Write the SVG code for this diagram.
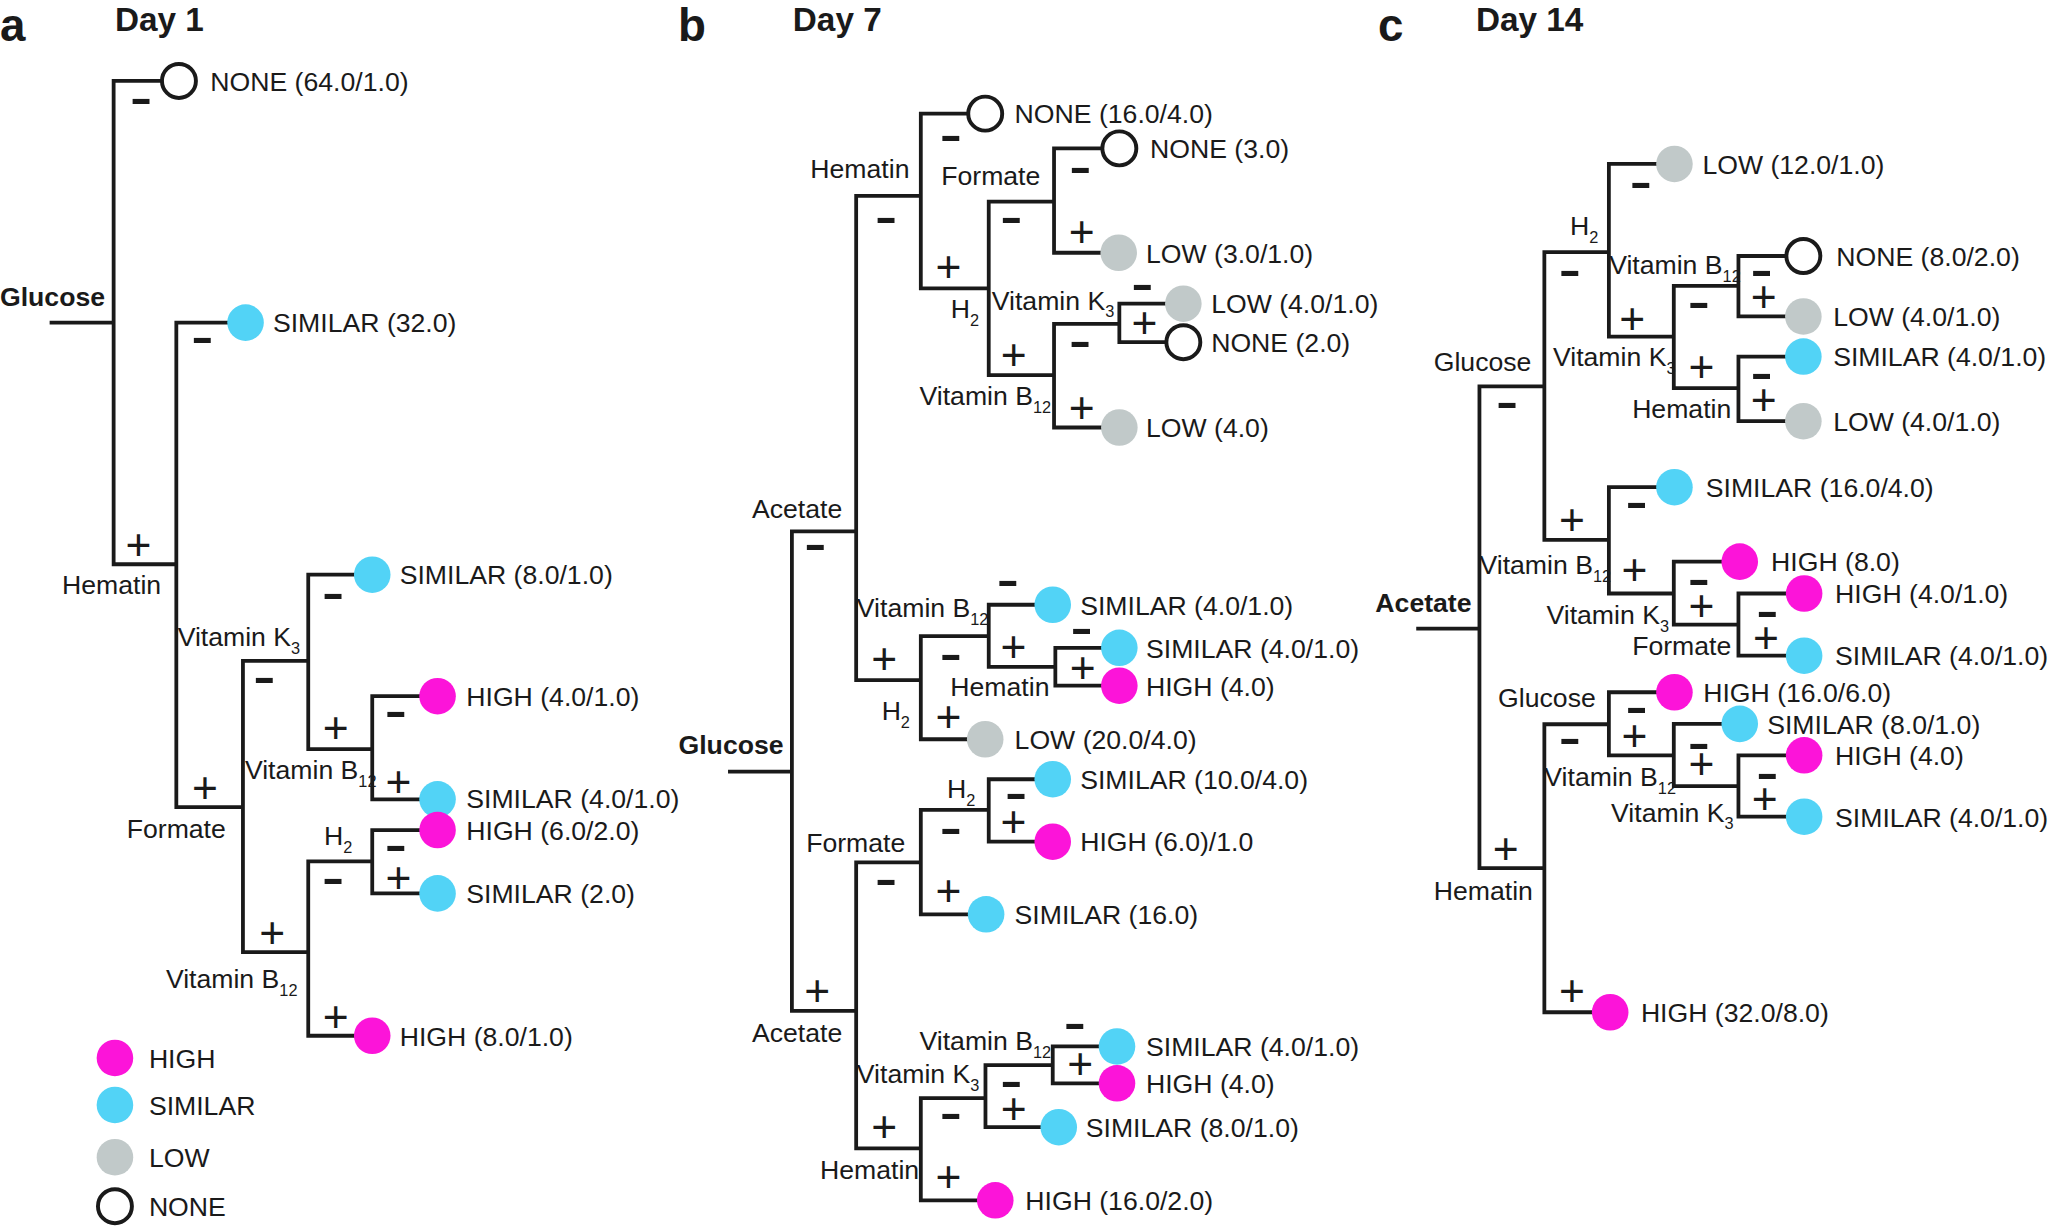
<svg xmlns="http://www.w3.org/2000/svg" width="2048" height="1227" viewBox="0 0 2048 1227">
<defs>
<style>
.e{fill:none;stroke:#1a1a1a;stroke-width:2.9;stroke-linejoin:miter;stroke-linecap:butt}
.t{font-family:"Liberation Sans",Arial,sans-serif;font-size:20.4px;fill:#1a1a1a}
.b{font-family:"Liberation Sans",Arial,sans-serif;font-weight:bold;fill:#1a1a1a}
.pl{font-family:"Liberation Sans",Arial,sans-serif;font-size:34px;fill:#1a1a1a;text-anchor:middle}
.mi{font-family:"Liberation Sans",Arial,sans-serif;font-weight:bold;font-size:33px;fill:#1a1a1a;text-anchor:middle}
.hi{fill:#fc14d9}
.si{fill:#52d3f6}
.lo{fill:#c1c9c9}
.no{fill:#ffffff;stroke:#1a1a1a;stroke-width:3}
.sub{font-size:12.5px}
</style>
</defs>
<rect width="2048" height="1227" fill="#ffffff"/>
<g transform="scale(1.30612)">

<g id="titles">
<text class="b" x="0" y="31" font-size="35">a</text>
<text class="b" x="88" y="24" font-size="25.5">Day 1</text>
<text class="b" x="519" y="31" font-size="35">b</text>
<text class="b" x="607" y="24" font-size="25.5">Day 7</text>
<text class="b" x="1055" y="31" font-size="35">c</text>
<text class="b" x="1130" y="24" font-size="25.5">Day 14</text>
</g>

<g id="connectors">
<!-- panel a -->
<path class="e" d="M38,247 H87"/>
<path class="e" d="M137,62 H87 V432 H135"/>
<path class="e" d="M188,247 H135 V618 H186"/>
<path class="e" d="M236,506 H186 V729 H236"/>
<path class="e" d="M285,440 H236 V573.5 H285"/>
<path class="e" d="M335,533 H285 V612 H335"/>
<path class="e" d="M285,659.5 H236 V793 H285"/>
<path class="e" d="M335,635.5 H285 V684 H335"/>
<!-- panel b -->
<path class="e" d="M557.4,590.7 H606.3"/>
<path class="e" d="M655.5,406.8 H606.3 V774 H655.5"/>
<path class="e" d="M705,150 H655.5 V520.7 H705"/>
<path class="e" d="M754.3,87 H705 V220.8 H757"/>
<path class="e" d="M807,154.4 H757 V287.2 H807"/>
<path class="e" d="M857,113.6 H807 V193.5 H857"/>
<path class="e" d="M857,247.9 H807 V327.3 H857"/>
<path class="e" d="M906,232.5 H857 V262 H906"/>
<path class="e" d="M757,487 H705 V566 H754.3"/>
<path class="e" d="M806,463 H757 V510.5 H808"/>
<path class="e" d="M857,496 H808 V525 H857"/>
<path class="e" d="M705,660.2 H655.5 V879.2 H705"/>
<path class="e" d="M757,620 H705 V700 H755"/>
<path class="e" d="M806,596.6 H757 V644.4 H806"/>
<path class="e" d="M754.5,840.7 H705 V919 H762"/>
<path class="e" d="M806,815.5 H754.5 V863 H810.6"/>
<path class="e" d="M855.2,801.2 H806 V829.4 H855.2"/>
<!-- panel c -->
<path class="e" d="M1084.3,481.3 H1132.7"/>
<path class="e" d="M1182.4,295.9 H1132.7 V664.6 H1182.4"/>
<path class="e" d="M1231.8,193.1 H1182.4 V413.3 H1231.8"/>
<path class="e" d="M1282,125.5 H1231.8 V257.7 H1281.5"/>
<path class="e" d="M1331,218.8 H1281.5 V297.2 H1331"/>
<path class="e" d="M1380.7,196 H1331 V242.3 H1380.7"/>
<path class="e" d="M1380.7,273 H1331 V322.5 H1380.7"/>
<path class="e" d="M1282,373 H1231.8 V454.4 H1281.5"/>
<path class="e" d="M1332,430 H1281.5 V478.2 H1331"/>
<path class="e" d="M1381.3,454.4 H1331 V502 H1381.3"/>
<path class="e" d="M1231.8,554.5 H1182.4 V775 H1232.8"/>
<path class="e" d="M1282,530 H1231.8 V578.3 H1281.5"/>
<path class="e" d="M1332,554.2 H1281.5 V601.9 H1331"/>
<path class="e" d="M1381.3,578.3 H1331 V625.3 H1381.3"/>
</g>

<g id="signs">
<!-- a -->
<text class="mi" x="108" y="86.6" textLength="17" lengthAdjust="spacingAndGlyphs">-</text>
<text class="pl" x="106" y="429">+</text>
<text class="mi" x="155" y="269.6" textLength="17" lengthAdjust="spacingAndGlyphs">-</text>
<text class="pl" x="157" y="615">+</text>
<text class="mi" x="202.5" y="529.6" textLength="17" lengthAdjust="spacingAndGlyphs">-</text>
<text class="pl" x="208.5" y="726">+</text>
<text class="mi" x="255" y="465.6" textLength="17" lengthAdjust="spacingAndGlyphs">-</text>
<text class="pl" x="257" y="569">+</text>
<text class="mi" x="303" y="556" textLength="17" lengthAdjust="spacingAndGlyphs">-</text>
<text class="pl" x="305" y="610">+</text>
<text class="mi" x="255" y="683.6" textLength="17" lengthAdjust="spacingAndGlyphs">-</text>
<text class="pl" x="257" y="790">+</text>
<text class="mi" x="303" y="658.6" textLength="17" lengthAdjust="spacingAndGlyphs">-</text>
<text class="pl" x="305" y="684">+</text>
<!-- b -->
<text class="mi" x="624.2" y="428" textLength="17" lengthAdjust="spacingAndGlyphs">-</text>
<text class="pl" x="625.6" y="770.4">+</text>
<text class="mi" x="678.4" y="177.3" textLength="17" lengthAdjust="spacingAndGlyphs">-</text>
<text class="pl" x="677" y="516">+</text>
<text class="mi" x="728" y="114.6" textLength="17" lengthAdjust="spacingAndGlyphs">-</text>
<text class="pl" x="726.2" y="215.7">+</text>
<text class="mi" x="774.4" y="177.8" textLength="17" lengthAdjust="spacingAndGlyphs">-</text>
<text class="pl" x="776.1" y="283.4">+</text>
<text class="mi" x="827.1" y="139.6" textLength="17" lengthAdjust="spacingAndGlyphs">-</text>
<text class="pl" x="828.2" y="189.4">+</text>
<text class="mi" x="827" y="272.8" textLength="17" lengthAdjust="spacingAndGlyphs">-</text>
<text class="pl" x="828.2" y="324.2">+</text>
<text class="mi" x="874.6" y="228.9" textLength="17" lengthAdjust="spacingAndGlyphs">-</text>
<text class="pl" x="876.3" y="259.1">+</text>
<text class="mi" x="728" y="512.1" textLength="17" lengthAdjust="spacingAndGlyphs">-</text>
<text class="pl" x="726.2" y="560.5">+</text>
<text class="mi" x="771.6" y="455.9" textLength="17" lengthAdjust="spacingAndGlyphs">-</text>
<text class="pl" x="776" y="506.6">+</text>
<text class="mi" x="828.2" y="492.3" textLength="17" lengthAdjust="spacingAndGlyphs">-</text>
<text class="pl" x="828.9" y="523">+</text>
<text class="mi" x="678.4" y="684.4" textLength="17" lengthAdjust="spacingAndGlyphs">-</text>
<text class="pl" x="677" y="874">+</text>
<text class="mi" x="728" y="645.6" textLength="17" lengthAdjust="spacingAndGlyphs">-</text>
<text class="pl" x="726.2" y="693.4">+</text>
<text class="mi" x="778" y="618.3" textLength="17" lengthAdjust="spacingAndGlyphs">-</text>
<text class="pl" x="776" y="641">+</text>
<text class="mi" x="728" y="863.6" textLength="17" lengthAdjust="spacingAndGlyphs">-</text>
<text class="pl" x="726.2" y="912.3">+</text>
<text class="mi" x="774.4" y="839.2" textLength="17" lengthAdjust="spacingAndGlyphs">-</text>
<text class="pl" x="776.1" y="860.2">+</text>
<text class="mi" x="823" y="794.6" textLength="17" lengthAdjust="spacingAndGlyphs">-</text>
<text class="pl" x="827.1" y="826.3">+</text>
<!-- c -->
<text class="mi" x="1153.9" y="319.6" textLength="17" lengthAdjust="spacingAndGlyphs">-</text>
<text class="pl" x="1152.9" y="661.4">+</text>
<text class="mi" x="1201.9" y="218.1" textLength="17" lengthAdjust="spacingAndGlyphs">-</text>
<text class="pl" x="1203.6" y="409.9">+</text>
<text class="mi" x="1256.3" y="150.6" textLength="17" lengthAdjust="spacingAndGlyphs">-</text>
<text class="pl" x="1249.6" y="255.9">+</text>
<text class="mi" x="1300.7" y="242.9" textLength="17" lengthAdjust="spacingAndGlyphs">-</text>
<text class="pl" x="1302.7" y="292.3">+</text>
<text class="mi" x="1348.7" y="218.1" textLength="17" lengthAdjust="spacingAndGlyphs">-</text>
<text class="pl" x="1350.4" y="239">+</text>
<text class="mi" x="1348.7" y="297" textLength="17" lengthAdjust="spacingAndGlyphs">-</text>
<text class="pl" x="1350.4" y="317.5">+</text>
<text class="mi" x="1253" y="396.2" textLength="17" lengthAdjust="spacingAndGlyphs">-</text>
<text class="pl" x="1251.3" y="447.6">+</text>
<text class="mi" x="1300.7" y="454.6" textLength="17" lengthAdjust="spacingAndGlyphs">-</text>
<text class="pl" x="1302.7" y="475.3">+</text>
<text class="mi" x="1353.1" y="479.6" textLength="17" lengthAdjust="spacingAndGlyphs">-</text>
<text class="pl" x="1352.1" y="500.2">+</text>
<text class="mi" x="1201.9" y="576.7" textLength="17" lengthAdjust="spacingAndGlyphs">-</text>
<text class="pl" x="1203.6" y="770.5">+</text>
<text class="mi" x="1253" y="552.6" textLength="17" lengthAdjust="spacingAndGlyphs">-</text>
<text class="pl" x="1251.3" y="575">+</text>
<text class="mi" x="1300.7" y="580.5" textLength="17" lengthAdjust="spacingAndGlyphs">-</text>
<text class="pl" x="1302.7" y="596.6">+</text>
<text class="mi" x="1353.1" y="603.4" textLength="17" lengthAdjust="spacingAndGlyphs">-</text>
<text class="pl" x="1351.1" y="623.3">+</text>
</g>

<g id="a-glucose"><text class="b" x="0" y="234" font-size="20.4">Glucose</text></g>
<g id="a-hematin"><text class="t" x="47.5" y="455">Hematin</text></g>
<g id="a-formate"><text class="t" x="97" y="641.5">Formate</text></g>
<g id="a-vitk3"><text class="t" x="136" y="494.5">Vitamin K<tspan class="sub" dy="6">3</tspan></text></g>
<g id="a-vitb12-1"><text class="t" x="187.5" y="596.5">Vitamin B<tspan class="sub" dy="6">12</tspan></text></g>
<g id="a-vitb12-2"><text class="t" x="127" y="756.5">Vitamin B<tspan class="sub" dy="6">12</tspan></text></g>
<g id="a-h2"><text class="t" x="248" y="647">H<tspan class="sub" dy="6">2</tspan></text></g>

<g id="b-glucose"><text class="b" x="519.5" y="577.3" font-size="20.4">Glucose</text></g>
<g id="b-acetate-1"><text class="t" x="575.7" y="396.7">Acetate</text></g>
<g id="b-acetate-2"><text class="t" x="575.7" y="798">Acetate</text></g>
<g id="b-hematin-1"><text class="t" x="620.4" y="136.6">Hematin</text></g>
<g id="b-h2-1"><text class="t" x="728" y="243.3">H<tspan class="sub" dy="6">2</tspan></text></g>
<g id="b-formate-1"><text class="t" x="720.6" y="141.7">Formate</text></g>
<g id="b-vitb12-1"><text class="t" x="704" y="310.2">Vitamin B<tspan class="sub" dy="6">12</tspan></text></g>
<g id="b-vitk3-1"><text class="t" x="759.3" y="237">Vitamin K<tspan class="sub" dy="6">3</tspan></text></g>
<g id="b-h2-2"><text class="t" x="675" y="551.5">H<tspan class="sub" dy="6">2</tspan></text></g>
<g id="b-vitb12-2"><text class="t" x="656" y="472.6">Vitamin B<tspan class="sub" dy="6">12</tspan></text></g>
<g id="b-hematin-2"><text class="t" x="727.6" y="532.5">Hematin</text></g>
<g id="b-h2-3"><text class="t" x="725" y="611">H<tspan class="sub" dy="6">2</tspan></text></g>
<g id="b-formate-2"><text class="t" x="617.2" y="652">Formate</text></g>
<g id="b-hematin-3"><text class="t" x="627.8" y="902.4">Hematin</text></g>
<g id="b-vitk3-2"><text class="t" x="656" y="829.4">Vitamin K<tspan class="sub" dy="6">3</tspan></text></g>
<g id="b-vitb12-3"><text class="t" x="704" y="804.2">Vitamin B<tspan class="sub" dy="6">12</tspan></text></g>

<g id="c-acetate"><text class="b" x="1053" y="468.5" font-size="20.4">Acetate</text></g>
<g id="c-glucose-1"><text class="t" x="1097.7" y="284">Glucose</text></g>
<g id="c-hematin-1"><text class="t" x="1097.7" y="688.7">Hematin</text></g>
<g id="c-h2"><text class="t" x="1202" y="179.8">H<tspan class="sub" dy="6">2</tspan></text></g>
<g id="c-vitb12-1"><text class="t" x="1232" y="210">Vitamin B<tspan class="sub" dy="6">12</tspan></text></g>
<g id="c-vitk3-1"><text class="t" x="1189" y="280.3">Vitamin K<tspan class="sub" dy="6">3</tspan></text></g>
<g id="c-hematin-2"><text class="t" x="1249.6" y="320">Hematin</text></g>
<g id="c-vitb12-2"><text class="t" x="1132.7" y="439.7">Vitamin B<tspan class="sub" dy="6">12</tspan></text></g>
<g id="c-vitk3-2"><text class="t" x="1184" y="477.5">Vitamin K<tspan class="sub" dy="6">3</tspan></text></g>
<g id="c-formate"><text class="t" x="1249.6" y="501.8">Formate</text></g>
<g id="c-glucose-2"><text class="t" x="1147" y="541.5">Glucose</text></g>
<g id="c-vitb12-3"><text class="t" x="1182.4" y="601.9">Vitamin B<tspan class="sub" dy="6">12</tspan></text></g>
<g id="c-vitk3-3"><text class="t" x="1233.5" y="629">Vitamin K<tspan class="sub" dy="6">3</tspan></text></g>

<g id="a-leaf1"><circle class="no" cx="137" cy="62" r="13"/><text class="t" x="161" y="69.5">NONE (64.0/1.0)</text></g>
<g id="a-leaf2"><circle class="si" cx="188" cy="247" r="14"/><text class="t" x="209" y="254.5">SIMILAR (32.0)</text></g>
<g id="a-leaf3"><circle class="si" cx="285" cy="440" r="14"/><text class="t" x="306" y="447.5">SIMILAR (8.0/1.0)</text></g>
<g id="a-leaf4"><circle class="hi" cx="335" cy="533" r="14"/><text class="t" x="357" y="540.5">HIGH (4.0/1.0)</text></g>
<g id="a-leaf5"><circle class="si" cx="335" cy="612" r="14"/><text class="t" x="357" y="619">SIMILAR (4.0/1.0)</text></g>
<g id="a-leaf6"><circle class="hi" cx="335" cy="635.5" r="14"/><text class="t" x="357" y="643">HIGH (6.0/2.0)</text></g>
<g id="a-leaf7"><circle class="si" cx="335" cy="684" r="14"/><text class="t" x="357" y="691.5">SIMILAR (2.0)</text></g>
<g id="a-leaf8"><circle class="hi" cx="285" cy="793" r="14"/><text class="t" x="306" y="800.5">HIGH (8.0/1.0)</text></g>

<g id="legend">
<circle class="hi" cx="88" cy="810" r="14"/><text class="t" x="114" y="817.5">HIGH</text>
<circle class="si" cx="88" cy="846" r="14"/><text class="t" x="114" y="853.5">SIMILAR</text>
<circle class="lo" cx="88" cy="886" r="14"/><text class="t" x="114" y="893.5">LOW</text>
<circle class="no" cx="88" cy="923.5" r="13"/><text class="t" x="114" y="931">NONE</text>
</g>

<g id="b-leaf1"><circle class="no" cx="754.3" cy="87" r="13"/><text class="t" x="776.8" y="94.5">NONE (16.0/4.0)</text></g>
<g id="b-leaf2"><circle class="no" cx="857" cy="113.6" r="13"/><text class="t" x="880.5" y="121.1">NONE (3.0)</text></g>
<g id="b-leaf3"><circle class="lo" cx="856.5" cy="193.5" r="14"/><text class="t" x="877.4" y="201">LOW (3.0/1.0)</text></g>
<g id="b-leaf4"><circle class="lo" cx="906" cy="232.5" r="14"/><text class="t" x="927.3" y="240">LOW (4.0/1.0)</text></g>
<g id="b-leaf5"><circle class="no" cx="906" cy="262" r="13"/><text class="t" x="927.3" y="269.5">NONE (2.0)</text></g>
<g id="b-leaf6"><circle class="lo" cx="857" cy="327.3" r="14"/><text class="t" x="877.4" y="334.8">LOW (4.0)</text></g>
<g id="b-leaf7"><circle class="si" cx="806" cy="463" r="14"/><text class="t" x="827" y="470.5">SIMILAR (4.0/1.0)</text></g>
<g id="b-leaf8"><circle class="si" cx="857" cy="496" r="14"/><text class="t" x="877.4" y="503.5">SIMILAR (4.0/1.0)</text></g>
<g id="b-leaf9"><circle class="hi" cx="857" cy="525" r="14"/><text class="t" x="877.4" y="532.5">HIGH (4.0)</text></g>
<g id="b-leaf10"><circle class="lo" cx="754.3" cy="566" r="14"/><text class="t" x="776.8" y="573.5">LOW (20.0/4.0)</text></g>
<g id="b-leaf11"><circle class="si" cx="806" cy="596.6" r="14"/><text class="t" x="827" y="604.1">SIMILAR (10.0/4.0)</text></g>
<g id="b-leaf12"><circle class="hi" cx="806" cy="644.4" r="14"/><text class="t" x="827" y="651.9">HIGH (6.0)/1.0</text></g>
<g id="b-leaf13"><circle class="si" cx="755" cy="700" r="14"/><text class="t" x="776.8" y="707.5">SIMILAR (16.0)</text></g>
<g id="b-leaf14"><circle class="si" cx="855.2" cy="801.2" r="14"/><text class="t" x="877.4" y="808.7">SIMILAR (4.0/1.0)</text></g>
<g id="b-leaf15"><circle class="hi" cx="855.2" cy="829.4" r="14"/><text class="t" x="877.4" y="836.9">HIGH (4.0)</text></g>
<g id="b-leaf16"><circle class="si" cx="810.6" cy="863" r="14"/><text class="t" x="831.3" y="870.5">SIMILAR (8.0/1.0)</text></g>
<g id="b-leaf17"><circle class="hi" cx="762" cy="919" r="14"/><text class="t" x="785" y="926.5">HIGH (16.0/2.0)</text></g>

<g id="c-leaf1"><circle class="lo" cx="1282" cy="125.5" r="14"/><text class="t" x="1303.4" y="133">LOW (12.0/1.0)</text></g>
<g id="c-leaf2"><circle class="no" cx="1380.7" cy="196" r="13"/><text class="t" x="1405.9" y="203.5">NONE (8.0/2.0)</text></g>
<g id="c-leaf3"><circle class="lo" cx="1380.7" cy="242.3" r="14"/><text class="t" x="1403.5" y="249.8">LOW (4.0/1.0)</text></g>
<g id="c-leaf4"><circle class="si" cx="1380.7" cy="273" r="14"/><text class="t" x="1403.5" y="280.5">SIMILAR (4.0/1.0)</text></g>
<g id="c-leaf5"><circle class="lo" cx="1380.7" cy="322.5" r="14"/><text class="t" x="1403.5" y="330">LOW (4.0/1.0)</text></g>
<g id="c-leaf6"><circle class="si" cx="1282" cy="373" r="14"/><text class="t" x="1306" y="380.5">SIMILAR (16.0/4.0)</text></g>
<g id="c-leaf7"><circle class="hi" cx="1332" cy="430" r="14"/><text class="t" x="1356" y="437.5">HIGH (8.0)</text></g>
<g id="c-leaf8"><circle class="hi" cx="1381.3" cy="454.4" r="14"/><text class="t" x="1405" y="461.9">HIGH (4.0/1.0)</text></g>
<g id="c-leaf9"><circle class="si" cx="1381.3" cy="502" r="14"/><text class="t" x="1405" y="509.5">SIMILAR (4.0/1.0)</text></g>
<g id="c-leaf10"><circle class="hi" cx="1282" cy="530" r="14"/><text class="t" x="1304" y="537.5">HIGH (16.0/6.0)</text></g>
<g id="c-leaf11"><circle class="si" cx="1332" cy="554.2" r="14"/><text class="t" x="1353" y="561.7">SIMILAR (8.0/1.0)</text></g>
<g id="c-leaf12"><circle class="hi" cx="1381.3" cy="578.3" r="14"/><text class="t" x="1405" y="585.8">HIGH (4.0)</text></g>
<g id="c-leaf13"><circle class="si" cx="1381.3" cy="625.3" r="14"/><text class="t" x="1405" y="632.8">SIMILAR (4.0/1.0)</text></g>
<g id="c-leaf14"><circle class="hi" cx="1232.8" cy="775" r="14"/><text class="t" x="1256.3" y="782.5">HIGH (32.0/8.0)</text></g>

</g>
</svg>
